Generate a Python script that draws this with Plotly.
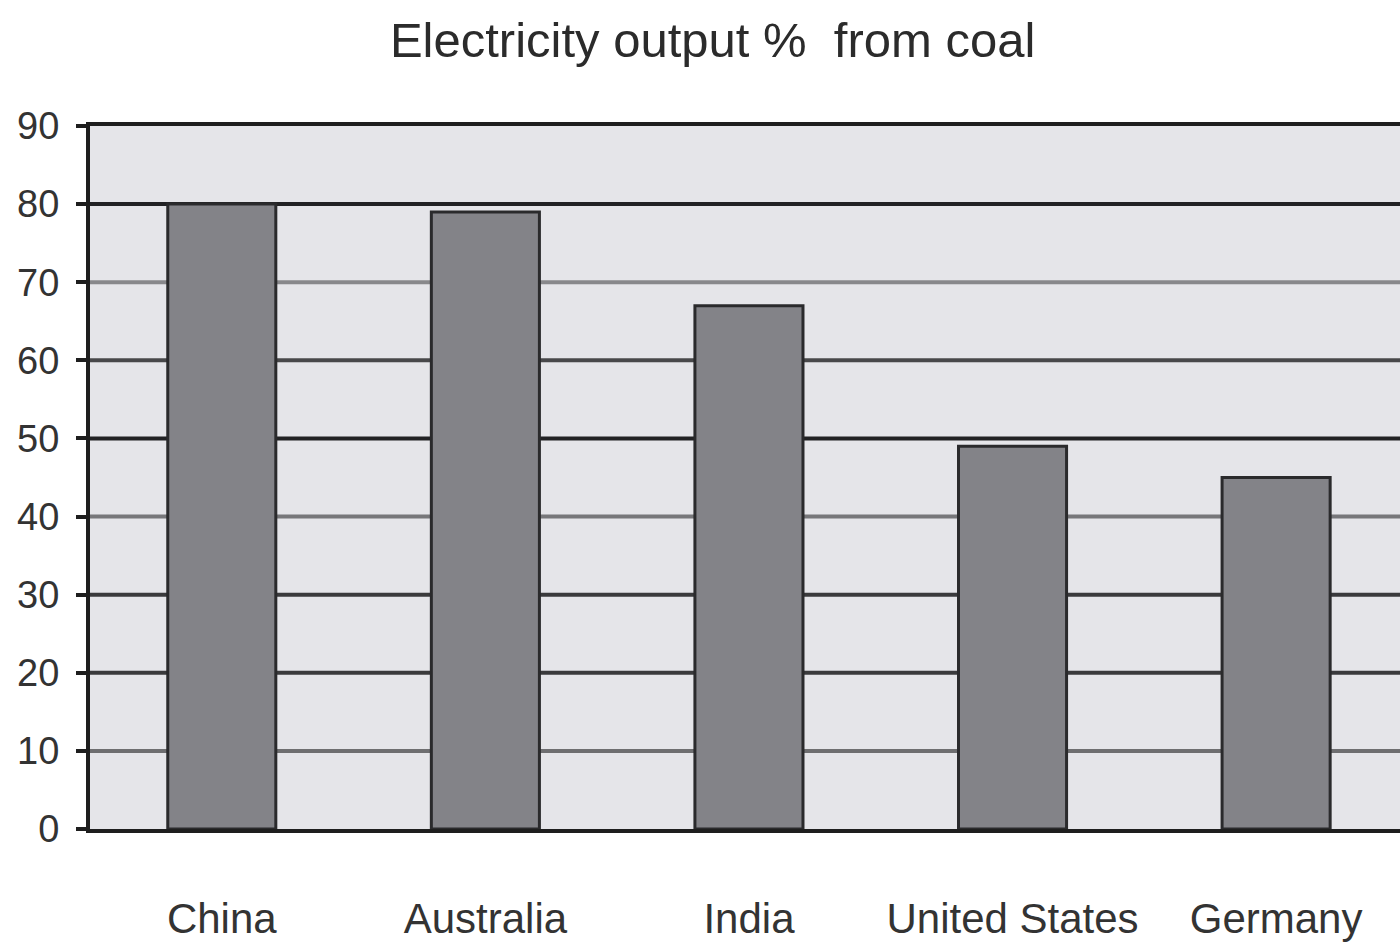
import plotly.graph_objects as go

# Share of electricity generated from coal, by country (%)
countries = ["China", "Australia", "India", "United States", "Germany"]
coal_share = [80, 79, 67, 49, 45]

y_ticks = [0, 10, 20, 30, 40, 50, 60, 70, 80, 90]
# Printed gridlines vary in darkness from level to level
grid_colors = ["#1e1e1e", "#6e6e70", "#3a3a3c", "#3a3a3c", "#77777a",
               "#222224", "#48484a", "#88888b", "#222224", "#222224"]

FONT = "Liberation Sans Narrow, Arial Narrow, Liberation Sans, sans-serif"

fig = go.Figure()
fig.add_trace(go.Bar(
    x=countries,
    y=coal_share,
    width=0.41,
    marker=dict(color="#838388", line=dict(color="#2a2a2c", width=3)),
    hoverinfo="x+y",
))

# Horizontal gridlines drawn beneath the bars (top and bottom come from the axis lines)
for val, col in zip(y_ticks[1:-1], grid_colors[1:-1]):
    fig.add_shape(type="line", xref="paper", yref="y", x0=0, x1=1, y0=val, y1=val,
                  line=dict(color=col, width=4), layer="below")

fig.update_layout(
    width=1400, height=952,
    margin=dict(l=90, r=0, t=126, b=123),
    paper_bgcolor="white",
    plot_bgcolor="#e5e5e9",
    showlegend=False,
    bargap=0.59,
    title=dict(
        text="Electricity output %  from coal",
        x=0.509, xanchor="center", y=0.958, yanchor="middle",
        font=dict(family=FONT, size=49, color="#2b2b2b"),
    ),
    xaxis=dict(
        range=[-0.5, 4.47],
        showgrid=False, zeroline=False, automargin=False,
        showline=True, linecolor="#1e1e1e", linewidth=4, mirror=True,
        ticks="", tickfont=dict(family=FONT, size=42, color="#333333"),
        ticklabelstandoff=50,
    ),
    yaxis=dict(
        range=[0, 90], tickvals=y_ticks, automargin=False,
        showgrid=False, zeroline=False,
        showline=True, linecolor="#1e1e1e", linewidth=4,
        ticks="outside", ticklen=10, tickwidth=4, tickcolor="#1e1e1e",
        tickfont=dict(family=FONT, size=38, color="#333333"),
        ticklabelstandoff=9,
    ),
)

fig.write_html("out.html")
